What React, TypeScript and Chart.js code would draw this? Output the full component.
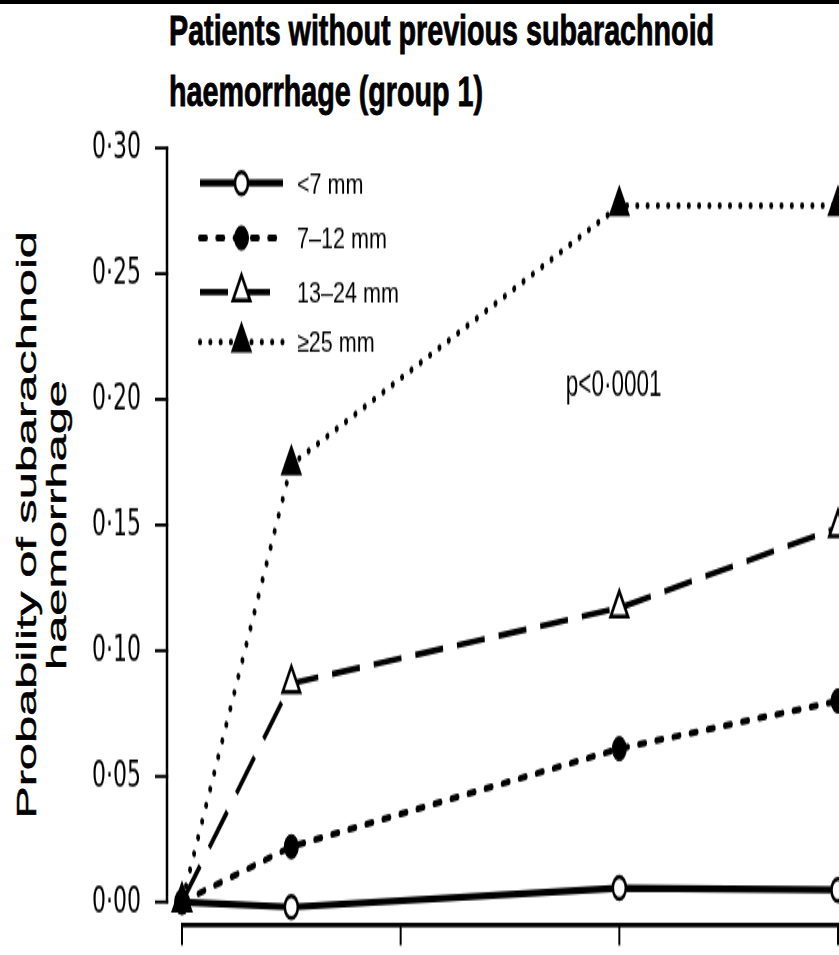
import React, { useEffect, useRef } from 'react';
import { Chart, registerables } from 'chart.js';
import { drawPoint } from 'chart.js/helpers';

Chart.register(...registerables);

// ---------- data ----------
const xValues = [0, 0.5, 2, 3];
const xTicks = [0, 1, 2, 3];
const yTicks = [0, 0.05, 0.1, 0.15, 0.2, 0.25, 0.3];
const seriesLabels = ['<7 mm', '7–12 mm', '13–24 mm', '≥25 mm'];
const lt7 = [0, -0.002, 0.0056, 0.0048];
const mm7to12 = [0, 0.022, 0.061, 0.08];
const mm13to24 = [0, 0.087, 0.117, 0.149];
const ge25 = [0, 0.174, 0.277, 0.277];
const titleLines = ['Patients without previous subarachnoid', 'haemorrhage (group 1)'];
const yTitleLines = ['Probability of subarachnoid', 'haemorrhage'];
const pValueText = 'p<0·0001';
const pValuePos = { x: 1.755, y: 0.2013 };

// ---------- layout (final page pixels; canvas is stretched vertically) ----------
const W = 839;
const H = 955;
const CH = 562; // canvas drawing height
const SY = H / CH; // vertical stretch of the printed figure
const AXIS_LEFT = 167;
const AXIS_RIGHT = 838;
const TOP_PX = 148; // 0.30
const ZERO_PX = 902; // 0.00
const XAXIS_PX = 925;
const X0_PX = 182;
const LEGEND_ROWS_PX = [183, 238, 292, 342];
const yMax = yTicks[yTicks.length - 1];
const yMin = -yMax * (XAXIS_PX - ZERO_PX) / (ZERO_PX - TOP_PX);
const xMax = xTicks[xTicks.length - 1];
const xMin = -(X0_PX - AXIS_LEFT) / ((AXIS_RIGHT - X0_PX) / xMax);

const FONT = '"Liberation Sans", Arial, Helvetica, sans-serif';

const decorPlugin = {
  id: 'decor',
  beforeDatasetsDraw(chart: any) {
    const { ctx, chartArea, scales } = chart;
    const x = scales.x;
    const y = scales.y;
    ctx.save();
    ctx.strokeStyle = '#000';
    ctx.lineCap = 'butt';
    // y axis
    const left = chartArea.left;
    const yTop = y.getPixelForValue(yTicks[yTicks.length - 1]);
    const yZero = y.getPixelForValue(yTicks[0]);
    ctx.lineWidth = 2.5;
    ctx.beginPath();
    ctx.moveTo(left, yTop - 0.8);
    ctx.lineTo(left, yZero + 0.8);
    ctx.stroke();
    ctx.lineWidth = 1.9;
    y.ticks.forEach((t: any) => {
      const py = y.getPixelForValue(t.value);
      ctx.beginPath();
      ctx.moveTo(left - 12, py);
      ctx.lineTo(left + 1.2, py);
      ctx.stroke();
    });
    // x axis (offset below)
    const bottom = chartArea.bottom;
    const x0 = x.getPixelForValue(xTicks[0]);
    const x1 = x.getPixelForValue(xTicks[xTicks.length - 1]);
    ctx.lineWidth = 2.6;
    ctx.beginPath();
    ctx.moveTo(x0 - 1, bottom);
    ctx.lineTo(x1 + 1, bottom);
    ctx.stroke();
    ctx.lineWidth = 2;
    x.ticks.forEach((t: any) => {
      const px = x.getPixelForValue(t.value);
      ctx.beginPath();
      ctx.moveTo(px, bottom - 1);
      ctx.lineTo(px, bottom + 12);
      ctx.stroke();
    });
    ctx.restore();
  },
  afterDraw(chart: any) {
    const { ctx, scales } = chart;
    const ds = chart.data.datasets;
    ctx.save();
    seriesLabels.forEach((label, i) => {
      const d = ds.find((s: any) => s.label === label);
      const ry = LEGEND_ROWS_PX[i] / SY;
      ctx.strokeStyle = '#000';
      ctx.setLineDash(d.borderDash || []);
      ctx.lineCap = d.borderCapStyle || 'butt';
      ctx.lineWidth = d.borderWidth;
      ctx.beginPath();
      ctx.moveTo(200, ry);
      ctx.lineTo(283, ry);
      ctx.stroke();
      ctx.setLineDash([]);
      ctx.fillStyle = d.pointBackgroundColor;
      ctx.strokeStyle = d.pointBorderColor;
      ctx.lineWidth = d.pointBorderWidth;
      drawPoint(ctx, { pointStyle: d.pointStyle, radius: d.pointRadius, borderWidth: d.pointBorderWidth, rotation: 0 }, 241.5, ry);
      ctx.fillStyle = '#000';
      ctx.font = `16.6px ${FONT}`;
      ctx.textAlign = 'left';
      ctx.textBaseline = 'alphabetic';
      ctx.save();
      ctx.translate(297, ry + 5.9);
      ctx.scale(1.3, 1);
      ctx.fillText(label, 0, 0);
      ctx.restore();
    });
    // p value annotation
    ctx.fillStyle = '#000';
    ctx.font = `22.5px ${FONT}`;
    ctx.textAlign = 'left';
    ctx.textBaseline = 'alphabetic';
    ctx.fillText(pValueText, scales.x.getPixelForValue(pValuePos.x), scales.y.getPixelForValue(pValuePos.y));
    ctx.restore();
  },
};

const toPoints = (arr: number[]) => xValues.map((x, i) => ({ x, y: arr[i] }));

export default function App() {
  const ref = useRef<HTMLCanvasElement | null>(null);

  useEffect(() => {
    if (!ref.current) return;
    const chart = new Chart(ref.current, {
      type: 'line',
      data: {
        datasets: [
          {
            label: seriesLabels[0],
            data: toPoints(lt7),
            borderColor: '#000',
            borderWidth: 4.2,
            borderDash: [],
            borderCapStyle: 'butt',
            pointStyle: 'circle',
            pointRadius: 6.5,
            pointBackgroundColor: '#fff',
            pointBorderColor: '#000',
            pointBorderWidth: 2.5,
            tension: 0,
            clip: false,
            order: 1,
          },
          {
            label: seriesLabels[1],
            data: toPoints(mm7to12),
            borderColor: '#000',
            borderWidth: 4,
            borderDash: [6, 11.3],
            borderCapStyle: 'round',
            pointStyle: 'circle',
            pointRadius: 7,
            pointBackgroundColor: '#000',
            pointBorderColor: '#000',
            pointBorderWidth: 1,
            tension: 0,
            clip: false,
            order: 2,
          },
          {
            label: seriesLabels[2],
            data: toPoints(mm13to24),
            borderColor: '#000',
            borderWidth: 3.6,
            borderDash: [28, 14],
            borderCapStyle: 'butt',
            pointStyle: 'triangle',
            pointRadius: 10,
            pointBackgroundColor: '#fff',
            pointBorderColor: '#000',
            pointBorderWidth: 2.5,
            tension: 0,
            clip: false,
            order: 3,
          },
          {
            label: seriesLabels[3],
            data: toPoints(ge25),
            borderColor: '#000',
            borderWidth: 4,
            borderDash: [0.1, 10.2],
            borderCapStyle: 'round',
            pointStyle: 'triangle',
            pointRadius: 11,
            pointBackgroundColor: '#000',
            pointBorderColor: '#000',
            pointBorderWidth: 1.5,
            tension: 0,
            clip: false,
            order: 0,
          },
        ],
      },
      options: {
        animation: false,
        responsive: false,
        maintainAspectRatio: false,
        devicePixelRatio: 1,
        events: [],
        layout: {
          autoPadding: false,
          padding: { top: TOP_PX / SY, left: 0, right: W - AXIS_RIGHT, bottom: 0 },
        },
        plugins: { legend: { display: false }, tooltip: { enabled: false }, title: { display: false } },
        scales: {
          x: {
            type: 'linear',
            min: xMin,
            max: xMax,
            afterBuildTicks: (axis: any) => {
              axis.ticks = xTicks.map((v) => ({ value: v }));
            },
            afterFit: (axis: any) => {
              axis.height = CH - XAXIS_PX / SY;
              axis.paddingLeft = 0;
              axis.paddingRight = 0;
              axis.paddingTop = 0;
              axis.paddingBottom = 0;
            },
            grid: { display: false, drawTicks: false },
            border: { display: false },
            ticks: { display: false },
          },
          y: {
            type: 'linear',
            min: yMin,
            max: yMax,
            afterBuildTicks: (axis: any) => {
              axis.ticks = yTicks.map((v) => ({ value: v }));
            },
            afterFit: (axis: any) => {
              axis.width = AXIS_LEFT;
              axis.paddingTop = 0;
              axis.paddingBottom = 0;
              axis.paddingLeft = 0;
              axis.paddingRight = 0;
            },
            grid: { display: false, drawTicks: false },
            border: { display: false },
            ticks: {
              autoSkip: false,
              padding: 26,
              color: '#000',
              font: { family: '"DejaVu Sans", sans-serif', size: 22 },
              callback: (v: any) => Number(v).toFixed(2).replace('.', '·'),
            },
          },
        },
      },
      plugins: [decorPlugin],
    } as any);
    return () => chart.destroy();
  }, []);

  return (
    <div style={{ position: 'absolute', left: 0, top: 0, width: W, height: H, overflow: 'hidden', background: '#fff' }}>
      <div style={{ position: 'absolute', left: 0, top: 0, width: W, height: 4, background: '#000' }} />
      <div
        style={{
          position: 'absolute',
          left: 169,
          top: 0,
          transform: 'scaleY(1.45)',
          transformOrigin: '0 0',
          font: `bold 28.7px ${FONT}`,
          lineHeight: '42px',
          whiteSpace: 'nowrap',
          color: '#000',
          WebkitTextStroke: '0.6px #000',
        }}
      >
        {titleLines.map((l) => (
          <div key={l}>{l}</div>
        ))}
      </div>
      <div
        style={{
          position: 'absolute',
          left: 42 - 350,
          top: 525 - 30,
          width: 700,
          height: 60,
          transform: 'rotate(-90deg) scaleX(1.74)',
          transformOrigin: '50% 50%',
          font: `28px ${FONT}`,
          lineHeight: '30px',
          textAlign: 'center',
          whiteSpace: 'nowrap',
          color: '#000',
          WebkitTextStroke: '0.4px #000',
        }}
      >
        {yTitleLines.map((l) => (
          <div key={l}>{l}</div>
        ))}
      </div>
      <div
        style={{
          position: 'absolute',
          left: 0,
          top: 0,
          width: W,
          height: CH,
          transform: `scaleY(${SY})`,
          transformOrigin: '0 0',
        }}
      >
        <canvas ref={ref} width={W} height={CH} style={{ display: 'block', width: W, height: CH }} />
      </div>
    </div>
  );
}
